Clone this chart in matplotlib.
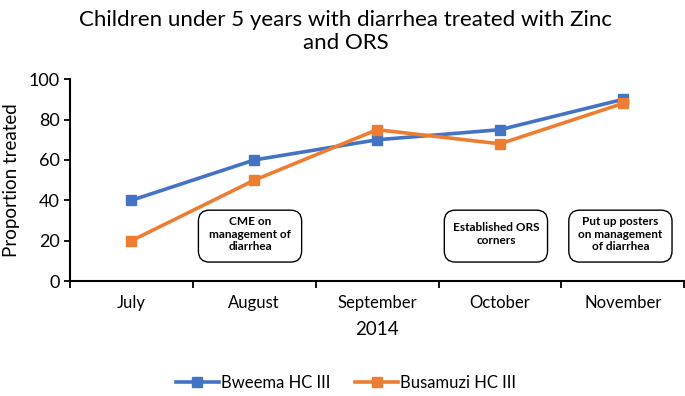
import matplotlib
matplotlib.use("Agg")
import matplotlib.pyplot as plt
from matplotlib.patches import FancyBboxPatch
from matplotlib.lines import Line2D

months = ["July", "August", "September", "October", "November"]
bweema = [40, 60, 70, 75, 90]
busamuzi = [20, 50, 75, 68, 88]
notes = ["CME on\nmanagement of\ndiarrhea", "Established ORS\ncorners", "Put up posters\non management\nof diarrhea"]
note_pos = [0.966, 2.967, 3.98]

plt.rcParams['font.family'] = ['Lato', 'DejaVu Sans']

fig = plt.figure(figsize=(6.85, 3.96), dpi=100)
ax = fig.add_axes([0.102, 0.290, 0.897, 0.510])

blue = "#4472C4"
orange = "#ED7D31"
x = list(range(len(months)))
ax.plot(x, bweema, color=blue, lw=2.6, marker="s", ms=7, label="Bweema HC III", zorder=3)
ax.plot(x, busamuzi, color=orange, lw=2.6, marker="s", ms=7, label="Busamuzi HC III", zorder=4)

ax.set_xlim(-0.5, 4.5)
ax.set_ylim(0, 100)
ax.set_yticks([0, 20, 40, 60, 80, 100])
ax.tick_params(axis="y", labelsize=13, length=4, width=1.3, direction="out")
ax.set_xticks([i - 0.5 for i in range(len(months) + 1)])
ax.set_xticklabels([])
ax.set_xticks(x, minor=True)
ax.set_xticklabels(months, minor=True, fontsize=12)
ax.tick_params(axis="x", which="major", length=5, width=1.3, direction="out")
ax.tick_params(axis="x", which="minor", length=0, pad=10)
for s in ["top", "right"]:
    ax.spines[s].set_visible(False)
for s in ["left", "bottom"]:
    ax.spines[s].set_linewidth(1.5)
ax.set_ylabel("Proportion treated", fontsize=13.5, labelpad=6)
ax.set_xlabel("2014", fontsize=13.5, labelpad=7)

bw, bh = 0.84, 25.7
for xc, t in zip(note_pos, notes):
    box = FancyBboxPatch((xc - bw / 2, 22.3 - bh / 2), bw, bh,
                         boxstyle="round,pad=0,rounding_size=0.09",
                         mutation_aspect=60.7,
                         fc="white", ec="black", lw=1.0, zorder=5)
    ax.add_patch(box)
    ax.text(xc, 22.3 + 1.0, t, ha="center", va="center", fontsize=8.5,
            fontweight="bold", zorder=6, linespacing=1.15)

fig.text(0.505, 0.975, "Children under 5 years with diarrhea treated with Zinc\nand ORS",
         ha="center", va="top", fontsize=16, linespacing=1.2)

handles = [Line2D([], [], color=blue, lw=2.6, marker="s", ms=7),
           Line2D([], [], color=orange, lw=2.6, marker="s", ms=7)]
fig.legend(handles, ["Bweema HC III", "Busamuzi HC III"], loc="center",
           bbox_to_anchor=(0.505, 0.033), ncol=2, frameon=False, fontsize=12,
           handlelength=2.6, handletextpad=0.1, columnspacing=1.5)

fig.savefig("out.png", dpi=100)
